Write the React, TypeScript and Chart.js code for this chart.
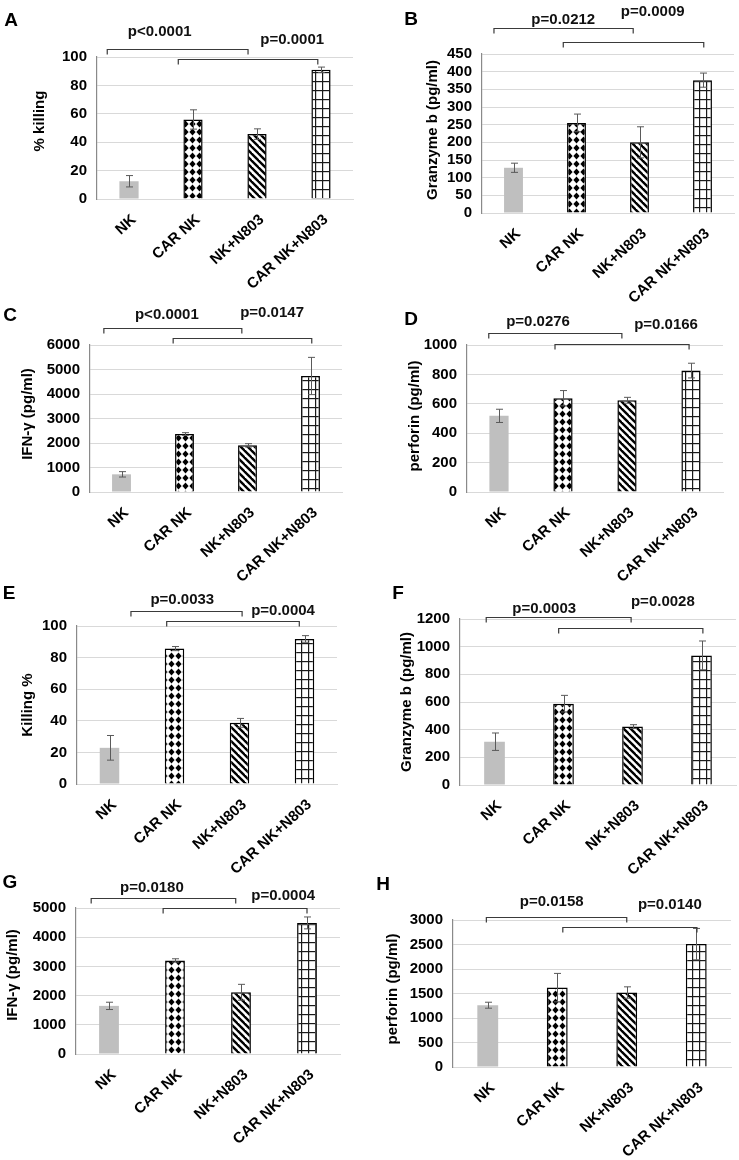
import React, { useEffect, useRef } from 'react';
import { Chart, registerables } from 'chart.js';

Chart.register(...registerables);

const FONT = "'Liberation Sans', Arial, Helvetica, sans-serif";

// ---------- data ----------
const CATEGORIES = ['NK', 'CAR NK', 'NK+N803', 'CAR NK+N803'];

const A_VALUES = [12.5, 56, 45.7, 91];
const A_ERRORS = [4, 6.8, 3.7, 1.9];
const A_TICKS = { max: 100, step: 20 };
const A_PVALUES = ['p<0.0001', 'p=0.0001'];

const B_VALUES = [128, 255, 200, 376];
const B_ERRORS = [13, 25, 44, 20];
const B_TICKS = { max: 450, step: 50 };
const B_PVALUES = ['p=0.0212', 'p=0.0009'];

const C_VALUES = [721, 2367, 1905, 4735];
const C_ERRORS = [110, 55, 68, 760];
const C_TICKS = { max: 6000, step: 1000 };
const C_PVALUES = ['p<0.0001', 'p=0.0147'];

const D_VALUES = [518, 638, 624, 826];
const D_ERRORS = [45, 52, 20, 50];
const D_TICKS = { max: 1000, step: 200 };
const D_PVALUES = ['p=0.0276', 'p=0.0166'];

const E_VALUES = [22.9, 85.7, 38.7, 91.8];
const E_ERRORS = [7.8, 1.3, 2.8, 2.1];
const E_TICKS = { max: 100, step: 20 };
const E_PVALUES = ['p=0.0033', 'p=0.0004'];

const F_VALUES = [313, 588, 422, 937];
const F_ERRORS = [63, 60, 14, 104];
const F_TICKS = { max: 1200, step: 200 };
const F_PVALUES = ['p=0.0003', 'p=0.0028'];

const G_VALUES = [1648, 3205, 2114, 4489];
const G_ERRORS = [125, 56, 272, 204];
const G_TICKS = { max: 5000, step: 1000 };
const G_PVALUES = ['p=0.0180', 'p=0.0004'];

const H_VALUES = [1261, 1620, 1520, 2508];
const H_ERRORS = [61, 290, 116, 320];
const H_TICKS = { max: 3000, step: 500 };
const H_PVALUES = ['p=0.0158', 'p=0.0140'];

// ---------- layout ----------
type Bracket = { from: number; to: number; y: number; tx: number; ty: number };
type PanelCfg = {
  letter: string;
  title: string;
  values: number[];
  errors: number[];
  ticks: { max: number; step: number };
  pvalues: string[];
  brackets: Bracket[];
  box: [number, number, number, number];
  plot: [number, number, number, number];
  letterPos: [number, number];
  titlePos: [number, number];
};

const PANELS: PanelCfg[] = [
  {
    letter: 'A', title: '% killing', values: A_VALUES, errors: A_ERRORS, ticks: A_TICKS, pvalues: A_PVALUES,
    brackets: [
      { from: -0.34, to: 1.86, y: 105.6, tx: 0.48, ty: 117.6 },
      { from: 0.77, to: 2.95, y: 98.6, tx: 2.55, ty: 112 },
    ],
    box: [0, 0, 370, 310], plot: [97, 57, 353, 199], letterPos: [11, 21], titlePos: [40, 121],
  },
  {
    letter: 'B', title: 'Granzyme b (pg/ml)', values: B_VALUES, errors: B_ERRORS, ticks: B_TICKS, pvalues: B_PVALUES,
    brackets: [
      { from: -0.31, to: 1.9, y: 523, tx: 0.79, ty: 546 },
      { from: 0.79, to: 3.02, y: 484, tx: 2.21, ty: 569 },
    ],
    box: [370, 0, 369, 310], plot: [482, 54, 734, 213], letterPos: [411, 20], titlePos: [433, 130],
  },
  {
    letter: 'C', title: 'IFN-γ (pg/ml)', values: C_VALUES, errors: C_ERRORS, ticks: C_TICKS, pvalues: C_PVALUES,
    brackets: [
      { from: -0.28, to: 1.91, y: 6694, tx: 0.72, ty: 7224 },
      { from: 0.82, to: 3.02, y: 6286, tx: 2.39, ty: 7306 },
    ],
    box: [0, 290, 370, 310], plot: [90, 345, 342, 492], letterPos: [10, 316], titlePos: [28, 414],
  },
  {
    letter: 'D', title: 'perforin (pg/ml)', values: D_VALUES, errors: D_ERRORS, ticks: D_TICKS, pvalues: D_PVALUES,
    brackets: [
      { from: -0.16, to: 1.92, y: 1082, tx: 0.61, ty: 1156 },
      { from: 0.875, to: 2.97, y: 1007, tx: 2.61, ty: 1136 },
    ],
    box: [370, 290, 369, 310], plot: [467, 345, 723, 492], letterPos: [411, 320], titlePos: [415, 416],
  },
  {
    letter: 'E', title: 'Killing %', values: E_VALUES, errors: E_ERRORS, ticks: E_TICKS, pvalues: E_PVALUES,
    brackets: [
      { from: 0.33, to: 2.04, y: 109.5, tx: 1.12, ty: 116.5 },
      { from: 0.88, to: 2.92, y: 103.2, tx: 2.67, ty: 109.5 },
    ],
    box: [0, 580, 370, 310], plot: [77, 626, 337, 784], letterPos: [9, 594], titlePos: [28, 705],
  },
  {
    letter: 'F', title: 'Granzyme b (pg/ml)', values: F_VALUES, errors: F_ERRORS, ticks: F_TICKS, pvalues: F_PVALUES,
    brackets: [
      { from: -0.12, to: 1.98, y: 1215, tx: 0.72, ty: 1272 },
      { from: 0.93, to: 3.02, y: 1135, tx: 2.44, ty: 1323 },
    ],
    box: [370, 580, 369, 310], plot: [460, 619, 736, 785], letterPos: [398, 594], titlePos: [407, 702],
  },
  {
    letter: 'G', title: 'IFN-γ (pg/ml)', values: G_VALUES, errors: G_ERRORS, ticks: G_TICKS, pvalues: G_PVALUES,
    brackets: [
      { from: -0.27, to: 1.92, y: 5342, tx: 0.65, ty: 5685 },
      { from: 0.82, to: 3.0, y: 5000, tx: 2.64, ty: 5411 },
    ],
    box: [0, 870, 370, 290], plot: [76, 908, 340, 1054], letterPos: [10, 883], titlePos: [13, 975],
  },
  {
    letter: 'H', title: 'perforin (pg/ml)', values: H_VALUES, errors: H_ERRORS, ticks: H_TICKS, pvalues: H_PVALUES,
    brackets: [
      { from: -0.02, to: 2.0, y: 3061, tx: 0.92, ty: 3367 },
      { from: 1.08, to: 3.01, y: 2857, tx: 2.62, ty: 3306 },
    ],
    box: [370, 870, 369, 290], plot: [453, 920, 731, 1067], letterPos: [383, 885], titlePos: [393, 989],
  },
];

// ---------- patterns ----------
function makePatterns(ctx: CanvasRenderingContext2D) {
  const tile = (w: number, h: number, draw: (c: CanvasRenderingContext2D) => void) => {
    const t = document.createElement('canvas');
    t.width = w;
    t.height = h;
    const c = t.getContext('2d')!;
    c.fillStyle = '#ffffff';
    c.fillRect(0, 0, w, h);
    draw(c);
    return ctx.createPattern(t, 'repeat')!;
  };
  const diamond = tile(7, 8, (c) => {
    c.fillStyle = '#000000';
    c.beginPath();
    c.moveTo(3.5, 0.6);
    c.lineTo(6.6, 4);
    c.lineTo(3.5, 7.4);
    c.lineTo(0.4, 4);
    c.closePath();
    c.fill();
  });
  const stripes = tile(7, 7, (c) => {
    c.strokeStyle = '#000000';
    c.lineWidth = 2.4;
    for (const k of [-7, 0, 7]) {
      c.beginPath();
      c.moveTo(k - 1, -1);
      c.lineTo(k + 8, 8);
      c.stroke();
    }
  });
  const grid = tile(7, 9, (c) => {
    c.fillStyle = '#1a1a1a';
    c.fillRect(0, 0, 1.2, 9);
    c.fillRect(0, 0, 7, 1.2);
  });
  return ['#bfbfbf', diamond, stripes, grid];
}

function Panel({ cfg }: { cfg: PanelCfg }) {
  const ref = useRef<HTMLCanvasElement>(null);
  const [bx, by, bw, bh] = cfg.box;
  const [pl, pt, pr, pb] = cfg.plot;

  useEffect(() => {
    const canvas = ref.current!;
    const ctx = canvas.getContext('2d')!;
    const fills = makePatterns(ctx);

    const overlay = {
      id: 'overlay',
      afterDatasetsDraw(chart: any) {
        const c: CanvasRenderingContext2D = chart.ctx;
        const xs = chart.scales.x;
        const ys = chart.scales.y;
        c.save();
        // error bars
        c.strokeStyle = '#5a5a5a';
        c.lineWidth = 1;
        cfg.values.forEach((v, i) => {
          const e = cfg.errors[i];
          const px = Math.round(xs.getPixelForValue(i)) + 0.5;
          const y1 = ys.getPixelForValue(v + e);
          const y2 = ys.getPixelForValue(v - e);
          c.beginPath();
          c.moveTo(px, y1);
          c.lineTo(px, y2);
          c.moveTo(px - 3.5, y1);
          c.lineTo(px + 3.5, y1);
          c.moveTo(px - 3.5, y2);
          c.lineTo(px + 3.5, y2);
          c.stroke();
        });
        // brackets
        c.strokeStyle = '#3a3a3a';
        c.lineWidth = 1.2;
        cfg.brackets.forEach((b) => {
          const x1 = xs.getPixelForValue(b.from);
          const x2 = xs.getPixelForValue(b.to);
          const y = Math.round(ys.getPixelForValue(b.y)) + 0.5;
          c.beginPath();
          c.moveTo(x1, y + 5);
          c.lineTo(x1, y);
          c.lineTo(x2, y);
          c.lineTo(x2, y + 5);
          c.stroke();
        });
        // p values
        c.fillStyle = '#111111';
        c.font = `bold 15px ${FONT}`;
        c.textAlign = 'center';
        c.textBaseline = 'middle';
        cfg.brackets.forEach((b, i) => {
          c.fillText(cfg.pvalues[i], xs.getPixelForValue(b.tx), ys.getPixelForValue(b.ty));
        });
        // panel letter
        c.fillStyle = '#000000';
        c.font = `bold 19px ${FONT}`;
        c.fillText(cfg.letter, cfg.letterPos[0] - bx, cfg.letterPos[1] - by);
        // y title
        c.font = `bold 15px ${FONT}`;
        c.translate(cfg.titlePos[0] - bx, cfg.titlePos[1] - by);
        c.rotate(-Math.PI / 2);
        c.fillText(cfg.title, 0, 0);
        c.restore();
      },
    };

    const chart = new Chart(canvas, {
      type: 'bar',
      data: {
        labels: CATEGORIES,
        datasets: [
          {
            data: cfg.values,
            backgroundColor: fills as any,
            borderColor: '#000000',
            borderWidth: [0, 1.5, 1.5, 1.5],
            barPercentage: 0.3,
            categoryPercentage: 1,
          },
        ],
      },
      options: {
        animation: false,
        responsive: false,
        maintainAspectRatio: false,
        devicePixelRatio: 1,
        layout: { padding: { top: pt - by, right: bx + bw - pr, left: 0, bottom: 0 } },
        plugins: { legend: { display: false }, tooltip: { enabled: false } },
        scales: {
          x: {
            grid: { display: false },
            border: { display: true, color: '#d9d9d9', width: 1 },
            ticks: {
              autoSkip: false,
              maxRotation: 42,
              minRotation: 42,
              labelOffset: 5,
              color: '#000000',
              padding: 4,
              font: { family: FONT, size: 15, weight: 'bold' },
            },
            afterFit: (s: any) => {
              s.height = by + bh - pb;
            },
          },
          y: {
            min: 0,
            max: cfg.ticks.max,
            ticks: {
              stepSize: cfg.ticks.step,
              autoSkip: false,
              color: '#000000',
              padding: 10,
              font: { family: FONT, size: 15, weight: 'bold' },
              callback: (v: any) => String(v),
            },
            grid: { color: '#d9d9d9', lineWidth: 1, drawTicks: false },
            border: { display: true, color: '#8a8a8a', width: 1.2 },
            afterFit: (s: any) => {
              s.width = pl - bx;
            },
          },
        },
      },
      plugins: [overlay],
    });
    return () => chart.destroy();
  }, []);

  return (
    <canvas
      ref={ref}
      width={bw}
      height={bh}
      style={{ position: 'absolute', left: bx, top: by, width: bw, height: bh }}
    />
  );
}

export default function App() {
  return (
    <div style={{ position: 'absolute', left: 0, top: 0, width: 739, height: 1160, background: '#ffffff' }}>
      {PANELS.map((p) => (
        <Panel key={p.letter} cfg={p} />
      ))}
    </div>
  );
}
